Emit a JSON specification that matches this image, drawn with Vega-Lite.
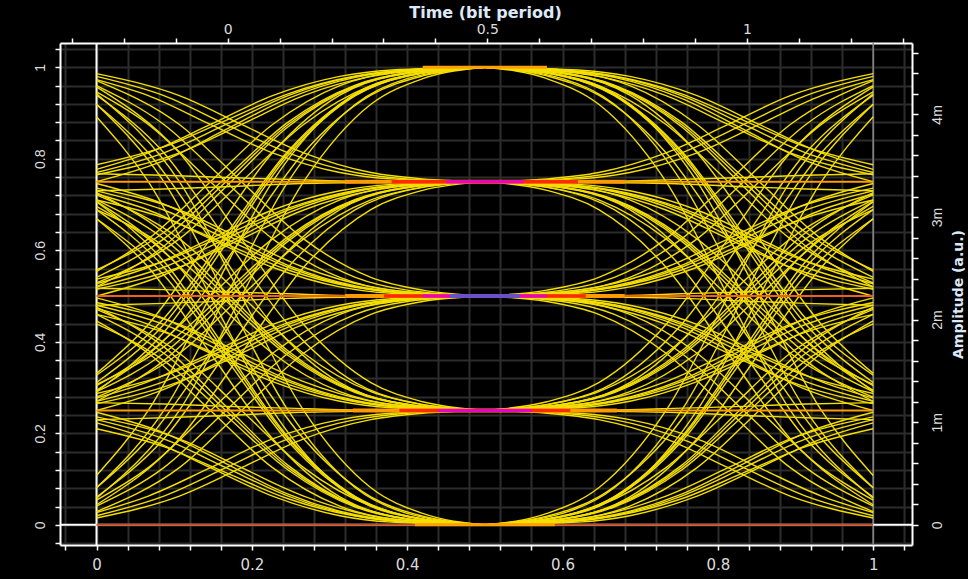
{
"$schema":"https://vega.github.io/schema/vega-lite/v6.json",
"autosize":{"type":"none"},
"width":852,"height":502,
"padding":{"left":60,"top":43,"right":56,"bottom":34},
"background":"#000000",
"config":{"view":{"stroke":null},"axis":{"domainColor":"#ffffff","domainWidth":2,"tickColor":"#ffffff","tickWidth":1.5,"labelColor":"#dcdcdc","labelFont":"DejaVu Sans","labelFontSize":14,"titleColor":"#dde8f8","titleFont":"DejaVu Sans","labelOverlap":false,"labelFlush":false,"labelBound":false}},
"datasets":{
"tr":[
{"i":1,"x":0,"r":1,"y":0.02},{"i":1,"x":0.0867,"r":0.9133,"y":0.063},{"i":1,"x":0.1667,"r":0.8333,"y":0.125},{"i":1,"x":0.2467,"r":0.7533,"y":0.188},{"i":1,"x":0.3333,"r":0.6667,"y":0.23},{"i":1,"x":0.4,"r":0.6,"y":0.244},{"i":1,"x":0.5,"r":0.5,"y":0.25},
{"i":2,"x":0,"r":1,"y":0.041},{"i":2,"x":0.0867,"r":0.9133,"y":0.125},{"i":2,"x":0.1667,"r":0.8333,"y":0.25},{"i":2,"x":0.2467,"r":0.7533,"y":0.375},{"i":2,"x":0.3333,"r":0.6667,"y":0.46},{"i":2,"x":0.4,"r":0.6,"y":0.488},{"i":2,"x":0.5,"r":0.5,"y":0.5},
{"i":3,"x":0,"r":1,"y":0.061},{"i":3,"x":0.0867,"r":0.9133,"y":0.188},{"i":3,"x":0.1667,"r":0.8333,"y":0.375},{"i":3,"x":0.2467,"r":0.7533,"y":0.563},{"i":3,"x":0.3333,"r":0.6667,"y":0.689},{"i":3,"x":0.4,"r":0.6,"y":0.731},{"i":3,"x":0.5,"r":0.5,"y":0.75},
{"i":4,"x":0,"r":1,"y":0.081},{"i":4,"x":0.0867,"r":0.9133,"y":0.25},{"i":4,"x":0.1667,"r":0.8333,"y":0.5},{"i":4,"x":0.2467,"r":0.7533,"y":0.75},{"i":4,"x":0.3333,"r":0.6667,"y":0.919},{"i":4,"x":0.4,"r":0.6,"y":0.975},{"i":4,"x":0.5,"r":0.5,"y":1},
{"i":5,"x":0,"r":1,"y":0.919},{"i":5,"x":0.0867,"r":0.9133,"y":0.75},{"i":5,"x":0.1667,"r":0.8333,"y":0.5},{"i":5,"x":0.2467,"r":0.7533,"y":0.25},{"i":5,"x":0.3333,"r":0.6667,"y":0.081},{"i":5,"x":0.4,"r":0.6,"y":0.025},{"i":5,"x":0.5,"r":0.5,"y":0},
{"i":6,"x":0,"r":1,"y":0.939},{"i":6,"x":0.0867,"r":0.9133,"y":0.813},{"i":6,"x":0.1667,"r":0.8333,"y":0.625},{"i":6,"x":0.2467,"r":0.7533,"y":0.438},{"i":6,"x":0.3333,"r":0.6667,"y":0.311},{"i":6,"x":0.4,"r":0.6,"y":0.269},{"i":6,"x":0.5,"r":0.5,"y":0.25},
{"i":7,"x":0,"r":1,"y":0.96},{"i":7,"x":0.0867,"r":0.9133,"y":0.875},{"i":7,"x":0.1667,"r":0.8333,"y":0.75},{"i":7,"x":0.2467,"r":0.7533,"y":0.625},{"i":7,"x":0.3333,"r":0.6667,"y":0.541},{"i":7,"x":0.4,"r":0.6,"y":0.513},{"i":7,"x":0.5,"r":0.5,"y":0.5},
{"i":8,"x":0,"r":1,"y":0.98},{"i":8,"x":0.0867,"r":0.9133,"y":0.938},{"i":8,"x":0.1667,"r":0.8333,"y":0.875},{"i":8,"x":0.2467,"r":0.7533,"y":0.813},{"i":8,"x":0.3333,"r":0.6667,"y":0.77},{"i":8,"x":0.4,"r":0.6,"y":0.756},{"i":8,"x":0.5,"r":0.5,"y":0.75},
{"i":9,"x":0,"r":1,"y":0.21},{"i":9,"x":0.0867,"r":0.9133,"y":0.171},{"i":9,"x":0.1667,"r":0.8333,"y":0.114},{"i":9,"x":0.2467,"r":0.7533,"y":0.057},{"i":9,"x":0.3333,"r":0.6667,"y":0.019},{"i":9,"x":0.4,"r":0.6,"y":0.006},{"i":9,"x":0.5,"r":0.5,"y":0},
{"i":10,"x":0,"r":1,"y":0.23},{"i":10,"x":0.0867,"r":0.9133,"y":0.234},{"i":10,"x":0.1667,"r":0.8333,"y":0.239},{"i":10,"x":0.2467,"r":0.7533,"y":0.245},{"i":10,"x":0.3333,"r":0.6667,"y":0.248},{"i":10,"x":0.4,"r":0.6,"y":0.249},{"i":10,"x":0.5,"r":0.5,"y":0.25},
{"i":11,"x":0,"r":1,"y":0.25},{"i":11,"x":0.0867,"r":0.9133,"y":0.296},{"i":11,"x":0.1667,"r":0.8333,"y":0.364},{"i":11,"x":0.2467,"r":0.7533,"y":0.432},{"i":11,"x":0.3333,"r":0.6667,"y":0.478},{"i":11,"x":0.4,"r":0.6,"y":0.493},{"i":11,"x":0.5,"r":0.5,"y":0.5},
{"i":12,"x":0,"r":1,"y":0.27},{"i":12,"x":0.0867,"r":0.9133,"y":0.359},{"i":12,"x":0.1667,"r":0.8333,"y":0.489},{"i":12,"x":0.2467,"r":0.7533,"y":0.62},{"i":12,"x":0.3333,"r":0.6667,"y":0.708},{"i":12,"x":0.4,"r":0.6,"y":0.737},{"i":12,"x":0.5,"r":0.5,"y":0.75},
{"i":13,"x":0,"r":1,"y":0.291},{"i":13,"x":0.0867,"r":0.9133,"y":0.421},{"i":13,"x":0.1667,"r":0.8333,"y":0.614},{"i":13,"x":0.2467,"r":0.7533,"y":0.807},{"i":13,"x":0.3333,"r":0.6667,"y":0.938},{"i":13,"x":0.4,"r":0.6,"y":0.981},{"i":13,"x":0.5,"r":0.5,"y":1},
{"i":14,"x":0,"r":1,"y":0.23},{"i":14,"x":0.0867,"r":0.9133,"y":0.188},{"i":14,"x":0.1667,"r":0.8333,"y":0.125},{"i":14,"x":0.2467,"r":0.7533,"y":0.063},{"i":14,"x":0.3333,"r":0.6667,"y":0.02},{"i":14,"x":0.4,"r":0.6,"y":0.006},{"i":14,"x":0.5,"r":0.5,"y":0},
{"i":15,"x":0,"r":1,"y":0.27},{"i":15,"x":0.0867,"r":0.9133,"y":0.313},{"i":15,"x":0.1667,"r":0.8333,"y":0.375},{"i":15,"x":0.2467,"r":0.7533,"y":0.438},{"i":15,"x":0.3333,"r":0.6667,"y":0.48},{"i":15,"x":0.4,"r":0.6,"y":0.494},{"i":15,"x":0.5,"r":0.5,"y":0.5},
{"i":16,"x":0,"r":1,"y":0.291},{"i":16,"x":0.0867,"r":0.9133,"y":0.375},{"i":16,"x":0.1667,"r":0.8333,"y":0.5},{"i":16,"x":0.2467,"r":0.7533,"y":0.625},{"i":16,"x":0.3333,"r":0.6667,"y":0.71},{"i":16,"x":0.4,"r":0.6,"y":0.738},{"i":16,"x":0.5,"r":0.5,"y":0.75},
{"i":17,"x":0,"r":1,"y":0.311},{"i":17,"x":0.0867,"r":0.9133,"y":0.438},{"i":17,"x":0.1667,"r":0.8333,"y":0.625},{"i":17,"x":0.2467,"r":0.7533,"y":0.813},{"i":17,"x":0.3333,"r":0.6667,"y":0.939},{"i":17,"x":0.4,"r":0.6,"y":0.981},{"i":17,"x":0.5,"r":0.5,"y":1},
{"i":18,"x":0,"r":1,"y":0.246},{"i":18,"x":0.0867,"r":0.9133,"y":0.201},{"i":18,"x":0.1667,"r":0.8333,"y":0.134},{"i":18,"x":0.2467,"r":0.7533,"y":0.067},{"i":18,"x":0.3333,"r":0.6667,"y":0.022},{"i":18,"x":0.4,"r":0.6,"y":0.007},{"i":18,"x":0.5,"r":0.5,"y":0},
{"i":19,"x":0,"r":1,"y":0.267},{"i":19,"x":0.0867,"r":0.9133,"y":0.264},{"i":19,"x":0.1667,"r":0.8333,"y":0.259},{"i":19,"x":0.2467,"r":0.7533,"y":0.255},{"i":19,"x":0.3333,"r":0.6667,"y":0.251},{"i":19,"x":0.4,"r":0.6,"y":0.25},{"i":19,"x":0.5,"r":0.5,"y":0.25},
{"i":20,"x":0,"r":1,"y":0.287},{"i":20,"x":0.0867,"r":0.9133,"y":0.326},{"i":20,"x":0.1667,"r":0.8333,"y":0.384},{"i":20,"x":0.2467,"r":0.7533,"y":0.442},{"i":20,"x":0.3333,"r":0.6667,"y":0.481},{"i":20,"x":0.4,"r":0.6,"y":0.494},{"i":20,"x":0.5,"r":0.5,"y":0.5},
{"i":21,"x":0,"r":1,"y":0.307},{"i":21,"x":0.0867,"r":0.9133,"y":0.389},{"i":21,"x":0.1667,"r":0.8333,"y":0.509},{"i":21,"x":0.2467,"r":0.7533,"y":0.63},{"i":21,"x":0.3333,"r":0.6667,"y":0.711},{"i":21,"x":0.4,"r":0.6,"y":0.738},{"i":21,"x":0.5,"r":0.5,"y":0.75},
{"i":22,"x":0,"r":1,"y":0.327},{"i":22,"x":0.0867,"r":0.9133,"y":0.451},{"i":22,"x":0.1667,"r":0.8333,"y":0.634},{"i":22,"x":0.2467,"r":0.7533,"y":0.817},{"i":22,"x":0.3333,"r":0.6667,"y":0.941},{"i":22,"x":0.4,"r":0.6,"y":0.982},{"i":22,"x":0.5,"r":0.5,"y":1},
{"i":23,"x":0,"r":1,"y":0.439},{"i":23,"x":0.0867,"r":0.9133,"y":0.359},{"i":23,"x":0.1667,"r":0.8333,"y":0.239},{"i":23,"x":0.2467,"r":0.7533,"y":0.12},{"i":23,"x":0.3333,"r":0.6667,"y":0.039},{"i":23,"x":0.4,"r":0.6,"y":0.012},{"i":23,"x":0.5,"r":0.5,"y":0},
{"i":24,"x":0,"r":1,"y":0.46},{"i":24,"x":0.0867,"r":0.9133,"y":0.421},{"i":24,"x":0.1667,"r":0.8333,"y":0.364},{"i":24,"x":0.2467,"r":0.7533,"y":0.307},{"i":24,"x":0.3333,"r":0.6667,"y":0.269},{"i":24,"x":0.4,"r":0.6,"y":0.256},{"i":24,"x":0.5,"r":0.5,"y":0.25},
{"i":25,"x":0,"r":1,"y":0.48},{"i":25,"x":0.0867,"r":0.9133,"y":0.484},{"i":25,"x":0.1667,"r":0.8333,"y":0.489},{"i":25,"x":0.2467,"r":0.7533,"y":0.495},{"i":25,"x":0.3333,"r":0.6667,"y":0.498},{"i":25,"x":0.4,"r":0.6,"y":0.499},{"i":25,"x":0.5,"r":0.5,"y":0.5},
{"i":26,"x":0,"r":1,"y":0.5},{"i":26,"x":0.0867,"r":0.9133,"y":0.546},{"i":26,"x":0.1667,"r":0.8333,"y":0.614},{"i":26,"x":0.2467,"r":0.7533,"y":0.682},{"i":26,"x":0.3333,"r":0.6667,"y":0.728},{"i":26,"x":0.4,"r":0.6,"y":0.743},{"i":26,"x":0.5,"r":0.5,"y":0.75},
{"i":27,"x":0,"r":1,"y":0.52},{"i":27,"x":0.0867,"r":0.9133,"y":0.609},{"i":27,"x":0.1667,"r":0.8333,"y":0.739},{"i":27,"x":0.2467,"r":0.7533,"y":0.87},{"i":27,"x":0.3333,"r":0.6667,"y":0.958},{"i":27,"x":0.4,"r":0.6,"y":0.987},{"i":27,"x":0.5,"r":0.5,"y":1},
{"i":28,"x":0,"r":1,"y":0.46},{"i":28,"x":0.0867,"r":0.9133,"y":0.375},{"i":28,"x":0.1667,"r":0.8333,"y":0.25},{"i":28,"x":0.2467,"r":0.7533,"y":0.125},{"i":28,"x":0.3333,"r":0.6667,"y":0.041},{"i":28,"x":0.4,"r":0.6,"y":0.013},{"i":28,"x":0.5,"r":0.5,"y":0},
{"i":29,"x":0,"r":1,"y":0.48},{"i":29,"x":0.0867,"r":0.9133,"y":0.438},{"i":29,"x":0.1667,"r":0.8333,"y":0.375},{"i":29,"x":0.2467,"r":0.7533,"y":0.313},{"i":29,"x":0.3333,"r":0.6667,"y":0.27},{"i":29,"x":0.4,"r":0.6,"y":0.256},{"i":29,"x":0.5,"r":0.5,"y":0.25},
{"i":30,"x":0,"r":1,"y":0.52},{"i":30,"x":0.0867,"r":0.9133,"y":0.563},{"i":30,"x":0.1667,"r":0.8333,"y":0.625},{"i":30,"x":0.2467,"r":0.7533,"y":0.688},{"i":30,"x":0.3333,"r":0.6667,"y":0.73},{"i":30,"x":0.4,"r":0.6,"y":0.744},{"i":30,"x":0.5,"r":0.5,"y":0.75},
{"i":31,"x":0,"r":1,"y":0.541},{"i":31,"x":0.0867,"r":0.9133,"y":0.625},{"i":31,"x":0.1667,"r":0.8333,"y":0.75},{"i":31,"x":0.2467,"r":0.7533,"y":0.875},{"i":31,"x":0.3333,"r":0.6667,"y":0.96},{"i":31,"x":0.4,"r":0.6,"y":0.988},{"i":31,"x":0.5,"r":0.5,"y":1},
{"i":32,"x":0,"r":1,"y":0.476},{"i":32,"x":0.0867,"r":0.9133,"y":0.389},{"i":32,"x":0.1667,"r":0.8333,"y":0.259},{"i":32,"x":0.2467,"r":0.7533,"y":0.13},{"i":32,"x":0.3333,"r":0.6667,"y":0.042},{"i":32,"x":0.4,"r":0.6,"y":0.013},{"i":32,"x":0.5,"r":0.5,"y":0},
{"i":33,"x":0,"r":1,"y":0.496},{"i":33,"x":0.0867,"r":0.9133,"y":0.451},{"i":33,"x":0.1667,"r":0.8333,"y":0.384},{"i":33,"x":0.2467,"r":0.7533,"y":0.317},{"i":33,"x":0.3333,"r":0.6667,"y":0.272},{"i":33,"x":0.4,"r":0.6,"y":0.257},{"i":33,"x":0.5,"r":0.5,"y":0.25},
{"i":34,"x":0,"r":1,"y":0.517},{"i":34,"x":0.0867,"r":0.9133,"y":0.514},{"i":34,"x":0.1667,"r":0.8333,"y":0.509},{"i":34,"x":0.2467,"r":0.7533,"y":0.505},{"i":34,"x":0.3333,"r":0.6667,"y":0.501},{"i":34,"x":0.4,"r":0.6,"y":0.5},{"i":34,"x":0.5,"r":0.5,"y":0.5},
{"i":35,"x":0,"r":1,"y":0.537},{"i":35,"x":0.0867,"r":0.9133,"y":0.576},{"i":35,"x":0.1667,"r":0.8333,"y":0.634},{"i":35,"x":0.2467,"r":0.7533,"y":0.692},{"i":35,"x":0.3333,"r":0.6667,"y":0.731},{"i":35,"x":0.4,"r":0.6,"y":0.744},{"i":35,"x":0.5,"r":0.5,"y":0.75},
{"i":36,"x":0,"r":1,"y":0.557},{"i":36,"x":0.0867,"r":0.9133,"y":0.639},{"i":36,"x":0.1667,"r":0.8333,"y":0.759},{"i":36,"x":0.2467,"r":0.7533,"y":0.88},{"i":36,"x":0.3333,"r":0.6667,"y":0.961},{"i":36,"x":0.4,"r":0.6,"y":0.988},{"i":36,"x":0.5,"r":0.5,"y":1},
{"i":37,"x":0,"r":1,"y":0.669},{"i":37,"x":0.0867,"r":0.9133,"y":0.546},{"i":37,"x":0.1667,"r":0.8333,"y":0.364},{"i":37,"x":0.2467,"r":0.7533,"y":0.182},{"i":37,"x":0.3333,"r":0.6667,"y":0.059},{"i":37,"x":0.4,"r":0.6,"y":0.018},{"i":37,"x":0.5,"r":0.5,"y":0},
{"i":38,"x":0,"r":1,"y":0.689},{"i":38,"x":0.0867,"r":0.9133,"y":0.609},{"i":38,"x":0.1667,"r":0.8333,"y":0.489},{"i":38,"x":0.2467,"r":0.7533,"y":0.37},{"i":38,"x":0.3333,"r":0.6667,"y":0.289},{"i":38,"x":0.4,"r":0.6,"y":0.262},{"i":38,"x":0.5,"r":0.5,"y":0.25},
{"i":39,"x":0,"r":1,"y":0.71},{"i":39,"x":0.0867,"r":0.9133,"y":0.671},{"i":39,"x":0.1667,"r":0.8333,"y":0.614},{"i":39,"x":0.2467,"r":0.7533,"y":0.557},{"i":39,"x":0.3333,"r":0.6667,"y":0.519},{"i":39,"x":0.4,"r":0.6,"y":0.506},{"i":39,"x":0.5,"r":0.5,"y":0.5},
{"i":40,"x":0,"r":1,"y":0.73},{"i":40,"x":0.0867,"r":0.9133,"y":0.734},{"i":40,"x":0.1667,"r":0.8333,"y":0.739},{"i":40,"x":0.2467,"r":0.7533,"y":0.745},{"i":40,"x":0.3333,"r":0.6667,"y":0.748},{"i":40,"x":0.4,"r":0.6,"y":0.749},{"i":40,"x":0.5,"r":0.5,"y":0.75},
{"i":41,"x":0,"r":1,"y":0.75},{"i":41,"x":0.0867,"r":0.9133,"y":0.796},{"i":41,"x":0.1667,"r":0.8333,"y":0.864},{"i":41,"x":0.2467,"r":0.7533,"y":0.932},{"i":41,"x":0.3333,"r":0.6667,"y":0.978},{"i":41,"x":0.4,"r":0.6,"y":0.993},{"i":41,"x":0.5,"r":0.5,"y":1},
{"i":42,"x":0,"r":1,"y":0.689},{"i":42,"x":0.0867,"r":0.9133,"y":0.563},{"i":42,"x":0.1667,"r":0.8333,"y":0.375},{"i":42,"x":0.2467,"r":0.7533,"y":0.188},{"i":42,"x":0.3333,"r":0.6667,"y":0.061},{"i":42,"x":0.4,"r":0.6,"y":0.019},{"i":42,"x":0.5,"r":0.5,"y":0},
{"i":43,"x":0,"r":1,"y":0.71},{"i":43,"x":0.0867,"r":0.9133,"y":0.625},{"i":43,"x":0.1667,"r":0.8333,"y":0.5},{"i":43,"x":0.2467,"r":0.7533,"y":0.375},{"i":43,"x":0.3333,"r":0.6667,"y":0.291},{"i":43,"x":0.4,"r":0.6,"y":0.263},{"i":43,"x":0.5,"r":0.5,"y":0.25},
{"i":44,"x":0,"r":1,"y":0.73},{"i":44,"x":0.0867,"r":0.9133,"y":0.688},{"i":44,"x":0.1667,"r":0.8333,"y":0.625},{"i":44,"x":0.2467,"r":0.7533,"y":0.563},{"i":44,"x":0.3333,"r":0.6667,"y":0.52},{"i":44,"x":0.4,"r":0.6,"y":0.506},{"i":44,"x":0.5,"r":0.5,"y":0.5},
{"i":45,"x":0,"r":1,"y":0.77},{"i":45,"x":0.0867,"r":0.9133,"y":0.813},{"i":45,"x":0.1667,"r":0.8333,"y":0.875},{"i":45,"x":0.2467,"r":0.7533,"y":0.938},{"i":45,"x":0.3333,"r":0.6667,"y":0.98},{"i":45,"x":0.4,"r":0.6,"y":0.994},{"i":45,"x":0.5,"r":0.5,"y":1},
{"i":46,"x":0,"r":1,"y":0.706},{"i":46,"x":0.0867,"r":0.9133,"y":0.576},{"i":46,"x":0.1667,"r":0.8333,"y":0.384},{"i":46,"x":0.2467,"r":0.7533,"y":0.192},{"i":46,"x":0.3333,"r":0.6667,"y":0.062},{"i":46,"x":0.4,"r":0.6,"y":0.019},{"i":46,"x":0.5,"r":0.5,"y":0},
{"i":47,"x":0,"r":1,"y":0.726},{"i":47,"x":0.0867,"r":0.9133,"y":0.639},{"i":47,"x":0.1667,"r":0.8333,"y":0.509},{"i":47,"x":0.2467,"r":0.7533,"y":0.38},{"i":47,"x":0.3333,"r":0.6667,"y":0.292},{"i":47,"x":0.4,"r":0.6,"y":0.263},{"i":47,"x":0.5,"r":0.5,"y":0.25},
{"i":48,"x":0,"r":1,"y":0.746},{"i":48,"x":0.0867,"r":0.9133,"y":0.701},{"i":48,"x":0.1667,"r":0.8333,"y":0.634},{"i":48,"x":0.2467,"r":0.7533,"y":0.567},{"i":48,"x":0.3333,"r":0.6667,"y":0.522},{"i":48,"x":0.4,"r":0.6,"y":0.507},{"i":48,"x":0.5,"r":0.5,"y":0.5},
{"i":49,"x":0,"r":1,"y":0.767},{"i":49,"x":0.0867,"r":0.9133,"y":0.764},{"i":49,"x":0.1667,"r":0.8333,"y":0.759},{"i":49,"x":0.2467,"r":0.7533,"y":0.755},{"i":49,"x":0.3333,"r":0.6667,"y":0.751},{"i":49,"x":0.4,"r":0.6,"y":0.75},{"i":49,"x":0.5,"r":0.5,"y":0.75},
{"i":50,"x":0,"r":1,"y":0.787},{"i":50,"x":0.0867,"r":0.9133,"y":0.826},{"i":50,"x":0.1667,"r":0.8333,"y":0.884},{"i":50,"x":0.2467,"r":0.7533,"y":0.942},{"i":50,"x":0.3333,"r":0.6667,"y":0.981},{"i":50,"x":0.4,"r":0.6,"y":0.994},{"i":50,"x":0.5,"r":0.5,"y":1},
{"i":51,"x":0,"r":1,"y":0.015},{"i":51,"x":0.1067,"r":0.8933,"y":0.063},{"i":51,"x":0.1867,"r":0.8133,"y":0.125},{"i":51,"x":0.2667,"r":0.7333,"y":0.188},{"i":51,"x":0.3533,"r":0.6467,"y":0.23},{"i":51,"x":0.42,"r":0.58,"y":0.244},{"i":51,"x":0.5,"r":0.5,"y":0.25},
{"i":52,"x":0,"r":1,"y":0.029},{"i":52,"x":0.1067,"r":0.8933,"y":0.125},{"i":52,"x":0.1867,"r":0.8133,"y":0.25},{"i":52,"x":0.2667,"r":0.7333,"y":0.375},{"i":52,"x":0.3533,"r":0.6467,"y":0.46},{"i":52,"x":0.42,"r":0.58,"y":0.488},{"i":52,"x":0.5,"r":0.5,"y":0.5},
{"i":53,"x":0,"r":1,"y":0.044},{"i":53,"x":0.1067,"r":0.8933,"y":0.188},{"i":53,"x":0.1867,"r":0.8133,"y":0.375},{"i":53,"x":0.2667,"r":0.7333,"y":0.563},{"i":53,"x":0.3533,"r":0.6467,"y":0.689},{"i":53,"x":0.42,"r":0.58,"y":0.731},{"i":53,"x":0.5,"r":0.5,"y":0.75},
{"i":54,"x":0,"r":1,"y":0.058},{"i":54,"x":0.1067,"r":0.8933,"y":0.25},{"i":54,"x":0.1867,"r":0.8133,"y":0.5},{"i":54,"x":0.2667,"r":0.7333,"y":0.75},{"i":54,"x":0.3533,"r":0.6467,"y":0.919},{"i":54,"x":0.42,"r":0.58,"y":0.975},{"i":54,"x":0.5,"r":0.5,"y":1},
{"i":55,"x":0,"r":1,"y":0.942},{"i":55,"x":0.1067,"r":0.8933,"y":0.75},{"i":55,"x":0.1867,"r":0.8133,"y":0.5},{"i":55,"x":0.2667,"r":0.7333,"y":0.25},{"i":55,"x":0.3533,"r":0.6467,"y":0.081},{"i":55,"x":0.42,"r":0.58,"y":0.025},{"i":55,"x":0.5,"r":0.5,"y":0},
{"i":56,"x":0,"r":1,"y":0.957},{"i":56,"x":0.1067,"r":0.8933,"y":0.813},{"i":56,"x":0.1867,"r":0.8133,"y":0.625},{"i":56,"x":0.2667,"r":0.7333,"y":0.438},{"i":56,"x":0.3533,"r":0.6467,"y":0.311},{"i":56,"x":0.42,"r":0.58,"y":0.269},{"i":56,"x":0.5,"r":0.5,"y":0.25},
{"i":57,"x":0,"r":1,"y":0.971},{"i":57,"x":0.1067,"r":0.8933,"y":0.875},{"i":57,"x":0.1867,"r":0.8133,"y":0.75},{"i":57,"x":0.2667,"r":0.7333,"y":0.625},{"i":57,"x":0.3533,"r":0.6467,"y":0.541},{"i":57,"x":0.42,"r":0.58,"y":0.513},{"i":57,"x":0.5,"r":0.5,"y":0.5},
{"i":58,"x":0,"r":1,"y":0.986},{"i":58,"x":0.1067,"r":0.8933,"y":0.938},{"i":58,"x":0.1867,"r":0.8133,"y":0.875},{"i":58,"x":0.2667,"r":0.7333,"y":0.813},{"i":58,"x":0.3533,"r":0.6467,"y":0.77},{"i":58,"x":0.42,"r":0.58,"y":0.756},{"i":58,"x":0.5,"r":0.5,"y":0.75},
{"i":59,"x":0,"r":1,"y":0.236},{"i":59,"x":0.1067,"r":0.8933,"y":0.188},{"i":59,"x":0.1867,"r":0.8133,"y":0.125},{"i":59,"x":0.2667,"r":0.7333,"y":0.063},{"i":59,"x":0.3533,"r":0.6467,"y":0.02},{"i":59,"x":0.42,"r":0.58,"y":0.006},{"i":59,"x":0.5,"r":0.5,"y":0},
{"i":60,"x":0,"r":1,"y":0.265},{"i":60,"x":0.1067,"r":0.8933,"y":0.313},{"i":60,"x":0.1867,"r":0.8133,"y":0.375},{"i":60,"x":0.2667,"r":0.7333,"y":0.438},{"i":60,"x":0.3533,"r":0.6467,"y":0.48},{"i":60,"x":0.42,"r":0.58,"y":0.494},{"i":60,"x":0.5,"r":0.5,"y":0.5},
{"i":61,"x":0,"r":1,"y":0.279},{"i":61,"x":0.1067,"r":0.8933,"y":0.375},{"i":61,"x":0.1867,"r":0.8133,"y":0.5},{"i":61,"x":0.2667,"r":0.7333,"y":0.625},{"i":61,"x":0.3533,"r":0.6467,"y":0.71},{"i":61,"x":0.42,"r":0.58,"y":0.738},{"i":61,"x":0.5,"r":0.5,"y":0.75},
{"i":62,"x":0,"r":1,"y":0.294},{"i":62,"x":0.1067,"r":0.8933,"y":0.438},{"i":62,"x":0.1867,"r":0.8133,"y":0.625},{"i":62,"x":0.2667,"r":0.7333,"y":0.813},{"i":62,"x":0.3533,"r":0.6467,"y":0.939},{"i":62,"x":0.42,"r":0.58,"y":0.981},{"i":62,"x":0.5,"r":0.5,"y":1},
{"i":63,"x":0,"r":1,"y":0.471},{"i":63,"x":0.1067,"r":0.8933,"y":0.375},{"i":63,"x":0.1867,"r":0.8133,"y":0.25},{"i":63,"x":0.2667,"r":0.7333,"y":0.125},{"i":63,"x":0.3533,"r":0.6467,"y":0.041},{"i":63,"x":0.42,"r":0.58,"y":0.013},{"i":63,"x":0.5,"r":0.5,"y":0},
{"i":64,"x":0,"r":1,"y":0.486},{"i":64,"x":0.1067,"r":0.8933,"y":0.438},{"i":64,"x":0.1867,"r":0.8133,"y":0.375},{"i":64,"x":0.2667,"r":0.7333,"y":0.313},{"i":64,"x":0.3533,"r":0.6467,"y":0.27},{"i":64,"x":0.42,"r":0.58,"y":0.256},{"i":64,"x":0.5,"r":0.5,"y":0.25},
{"i":65,"x":0,"r":1,"y":0.515},{"i":65,"x":0.1067,"r":0.8933,"y":0.563},{"i":65,"x":0.1867,"r":0.8133,"y":0.625},{"i":65,"x":0.2667,"r":0.7333,"y":0.688},{"i":65,"x":0.3533,"r":0.6467,"y":0.73},{"i":65,"x":0.42,"r":0.58,"y":0.744},{"i":65,"x":0.5,"r":0.5,"y":0.75},
{"i":66,"x":0,"r":1,"y":0.529},{"i":66,"x":0.1067,"r":0.8933,"y":0.625},{"i":66,"x":0.1867,"r":0.8133,"y":0.75},{"i":66,"x":0.2667,"r":0.7333,"y":0.875},{"i":66,"x":0.3533,"r":0.6467,"y":0.96},{"i":66,"x":0.42,"r":0.58,"y":0.988},{"i":66,"x":0.5,"r":0.5,"y":1},
{"i":67,"x":0,"r":1,"y":0.707},{"i":67,"x":0.1067,"r":0.8933,"y":0.563},{"i":67,"x":0.1867,"r":0.8133,"y":0.375},{"i":67,"x":0.2667,"r":0.7333,"y":0.188},{"i":67,"x":0.3533,"r":0.6467,"y":0.061},{"i":67,"x":0.42,"r":0.58,"y":0.019},{"i":67,"x":0.5,"r":0.5,"y":0},
{"i":68,"x":0,"r":1,"y":0.721},{"i":68,"x":0.1067,"r":0.8933,"y":0.625},{"i":68,"x":0.1867,"r":0.8133,"y":0.5},{"i":68,"x":0.2667,"r":0.7333,"y":0.375},{"i":68,"x":0.3533,"r":0.6467,"y":0.291},{"i":68,"x":0.42,"r":0.58,"y":0.263},{"i":68,"x":0.5,"r":0.5,"y":0.25},
{"i":69,"x":0,"r":1,"y":0.736},{"i":69,"x":0.1067,"r":0.8933,"y":0.688},{"i":69,"x":0.1867,"r":0.8133,"y":0.625},{"i":69,"x":0.2667,"r":0.7333,"y":0.563},{"i":69,"x":0.3533,"r":0.6467,"y":0.52},{"i":69,"x":0.42,"r":0.58,"y":0.506},{"i":69,"x":0.5,"r":0.5,"y":0.5},
{"i":70,"x":0,"r":1,"y":0.765},{"i":70,"x":0.1067,"r":0.8933,"y":0.813},{"i":70,"x":0.1867,"r":0.8133,"y":0.875},{"i":70,"x":0.2667,"r":0.7333,"y":0.938},{"i":70,"x":0.3533,"r":0.6467,"y":0.98},{"i":70,"x":0.42,"r":0.58,"y":0.994},{"i":70,"x":0.5,"r":0.5,"y":1},
{"i":71,"x":0,"r":1,"y":0.027},{"i":71,"x":0.0667,"r":0.9333,"y":0.063},{"i":71,"x":0.1467,"r":0.8533,"y":0.125},{"i":71,"x":0.2267,"r":0.7733,"y":0.188},{"i":71,"x":0.3133,"r":0.6867,"y":0.23},{"i":71,"x":0.38,"r":0.62,"y":0.244},{"i":71,"x":0.5,"r":0.5,"y":0.25},
{"i":72,"x":0,"r":1,"y":0.054},{"i":72,"x":0.0667,"r":0.9333,"y":0.125},{"i":72,"x":0.1467,"r":0.8533,"y":0.25},{"i":72,"x":0.2267,"r":0.7733,"y":0.375},{"i":72,"x":0.3133,"r":0.6867,"y":0.46},{"i":72,"x":0.38,"r":0.62,"y":0.488},{"i":72,"x":0.5,"r":0.5,"y":0.5},
{"i":73,"x":0,"r":1,"y":0.081},{"i":73,"x":0.0667,"r":0.9333,"y":0.188},{"i":73,"x":0.1467,"r":0.8533,"y":0.375},{"i":73,"x":0.2267,"r":0.7733,"y":0.563},{"i":73,"x":0.3133,"r":0.6867,"y":0.689},{"i":73,"x":0.38,"r":0.62,"y":0.731},{"i":73,"x":0.5,"r":0.5,"y":0.75},
{"i":74,"x":0,"r":1,"y":0.108},{"i":74,"x":0.0667,"r":0.9333,"y":0.25},{"i":74,"x":0.1467,"r":0.8533,"y":0.5},{"i":74,"x":0.2267,"r":0.7733,"y":0.75},{"i":74,"x":0.3133,"r":0.6867,"y":0.919},{"i":74,"x":0.38,"r":0.62,"y":0.975},{"i":74,"x":0.5,"r":0.5,"y":1},
{"i":75,"x":0,"r":1,"y":0.892},{"i":75,"x":0.0667,"r":0.9333,"y":0.75},{"i":75,"x":0.1467,"r":0.8533,"y":0.5},{"i":75,"x":0.2267,"r":0.7733,"y":0.25},{"i":75,"x":0.3133,"r":0.6867,"y":0.081},{"i":75,"x":0.38,"r":0.62,"y":0.025},{"i":75,"x":0.5,"r":0.5,"y":0},
{"i":76,"x":0,"r":1,"y":0.919},{"i":76,"x":0.0667,"r":0.9333,"y":0.813},{"i":76,"x":0.1467,"r":0.8533,"y":0.625},{"i":76,"x":0.2267,"r":0.7733,"y":0.438},{"i":76,"x":0.3133,"r":0.6867,"y":0.311},{"i":76,"x":0.38,"r":0.62,"y":0.269},{"i":76,"x":0.5,"r":0.5,"y":0.25},
{"i":77,"x":0,"r":1,"y":0.946},{"i":77,"x":0.0667,"r":0.9333,"y":0.875},{"i":77,"x":0.1467,"r":0.8533,"y":0.75},{"i":77,"x":0.2267,"r":0.7733,"y":0.625},{"i":77,"x":0.3133,"r":0.6867,"y":0.541},{"i":77,"x":0.38,"r":0.62,"y":0.513},{"i":77,"x":0.5,"r":0.5,"y":0.5},
{"i":78,"x":0,"r":1,"y":0.973},{"i":78,"x":0.0667,"r":0.9333,"y":0.938},{"i":78,"x":0.1467,"r":0.8533,"y":0.875},{"i":78,"x":0.2267,"r":0.7733,"y":0.813},{"i":78,"x":0.3133,"r":0.6867,"y":0.77},{"i":78,"x":0.38,"r":0.62,"y":0.756},{"i":78,"x":0.5,"r":0.5,"y":0.75},
{"i":79,"x":0,"r":1,"y":0.223},{"i":79,"x":0.0667,"r":0.9333,"y":0.188},{"i":79,"x":0.1467,"r":0.8533,"y":0.125},{"i":79,"x":0.2267,"r":0.7733,"y":0.063},{"i":79,"x":0.3133,"r":0.6867,"y":0.02},{"i":79,"x":0.38,"r":0.62,"y":0.006},{"i":79,"x":0.5,"r":0.5,"y":0},
{"i":80,"x":0,"r":1,"y":0.277},{"i":80,"x":0.0667,"r":0.9333,"y":0.313},{"i":80,"x":0.1467,"r":0.8533,"y":0.375},{"i":80,"x":0.2267,"r":0.7733,"y":0.438},{"i":80,"x":0.3133,"r":0.6867,"y":0.48},{"i":80,"x":0.38,"r":0.62,"y":0.494},{"i":80,"x":0.5,"r":0.5,"y":0.5},
{"i":81,"x":0,"r":1,"y":0.304},{"i":81,"x":0.0667,"r":0.9333,"y":0.375},{"i":81,"x":0.1467,"r":0.8533,"y":0.5},{"i":81,"x":0.2267,"r":0.7733,"y":0.625},{"i":81,"x":0.3133,"r":0.6867,"y":0.71},{"i":81,"x":0.38,"r":0.62,"y":0.738},{"i":81,"x":0.5,"r":0.5,"y":0.75},
{"i":82,"x":0,"r":1,"y":0.331},{"i":82,"x":0.0667,"r":0.9333,"y":0.438},{"i":82,"x":0.1467,"r":0.8533,"y":0.625},{"i":82,"x":0.2267,"r":0.7733,"y":0.813},{"i":82,"x":0.3133,"r":0.6867,"y":0.939},{"i":82,"x":0.38,"r":0.62,"y":0.981},{"i":82,"x":0.5,"r":0.5,"y":1},
{"i":83,"x":0,"r":1,"y":0.446},{"i":83,"x":0.0667,"r":0.9333,"y":0.375},{"i":83,"x":0.1467,"r":0.8533,"y":0.25},{"i":83,"x":0.2267,"r":0.7733,"y":0.125},{"i":83,"x":0.3133,"r":0.6867,"y":0.041},{"i":83,"x":0.38,"r":0.62,"y":0.013},{"i":83,"x":0.5,"r":0.5,"y":0},
{"i":84,"x":0,"r":1,"y":0.473},{"i":84,"x":0.0667,"r":0.9333,"y":0.438},{"i":84,"x":0.1467,"r":0.8533,"y":0.375},{"i":84,"x":0.2267,"r":0.7733,"y":0.313},{"i":84,"x":0.3133,"r":0.6867,"y":0.27},{"i":84,"x":0.38,"r":0.62,"y":0.256},{"i":84,"x":0.5,"r":0.5,"y":0.25},
{"i":85,"x":0,"r":1,"y":0.527},{"i":85,"x":0.0667,"r":0.9333,"y":0.563},{"i":85,"x":0.1467,"r":0.8533,"y":0.625},{"i":85,"x":0.2267,"r":0.7733,"y":0.688},{"i":85,"x":0.3133,"r":0.6867,"y":0.73},{"i":85,"x":0.38,"r":0.62,"y":0.744},{"i":85,"x":0.5,"r":0.5,"y":0.75},
{"i":86,"x":0,"r":1,"y":0.554},{"i":86,"x":0.0667,"r":0.9333,"y":0.625},{"i":86,"x":0.1467,"r":0.8533,"y":0.75},{"i":86,"x":0.2267,"r":0.7733,"y":0.875},{"i":86,"x":0.3133,"r":0.6867,"y":0.96},{"i":86,"x":0.38,"r":0.62,"y":0.988},{"i":86,"x":0.5,"r":0.5,"y":1},
{"i":87,"x":0,"r":1,"y":0.669},{"i":87,"x":0.0667,"r":0.9333,"y":0.563},{"i":87,"x":0.1467,"r":0.8533,"y":0.375},{"i":87,"x":0.2267,"r":0.7733,"y":0.188},{"i":87,"x":0.3133,"r":0.6867,"y":0.061},{"i":87,"x":0.38,"r":0.62,"y":0.019},{"i":87,"x":0.5,"r":0.5,"y":0},
{"i":88,"x":0,"r":1,"y":0.696},{"i":88,"x":0.0667,"r":0.9333,"y":0.625},{"i":88,"x":0.1467,"r":0.8533,"y":0.5},{"i":88,"x":0.2267,"r":0.7733,"y":0.375},{"i":88,"x":0.3133,"r":0.6867,"y":0.291},{"i":88,"x":0.38,"r":0.62,"y":0.263},{"i":88,"x":0.5,"r":0.5,"y":0.25},
{"i":89,"x":0,"r":1,"y":0.723},{"i":89,"x":0.0667,"r":0.9333,"y":0.688},{"i":89,"x":0.1467,"r":0.8533,"y":0.625},{"i":89,"x":0.2267,"r":0.7733,"y":0.563},{"i":89,"x":0.3133,"r":0.6867,"y":0.52},{"i":89,"x":0.38,"r":0.62,"y":0.506},{"i":89,"x":0.5,"r":0.5,"y":0.5},
{"i":90,"x":0,"r":1,"y":0.777},{"i":90,"x":0.0667,"r":0.9333,"y":0.813},{"i":90,"x":0.1467,"r":0.8533,"y":0.875},{"i":90,"x":0.2267,"r":0.7733,"y":0.938},{"i":90,"x":0.3133,"r":0.6867,"y":0.98},{"i":90,"x":0.38,"r":0.62,"y":0.994},{"i":90,"x":0.5,"r":0.5,"y":1}
],
"fl":[
{"i":1,"k":"f","x":0,"y":0.25},{"i":1,"k":"f","x":1,"y":0.25},
{"i":2,"k":"h","x":0,"y":0.5},{"i":2,"k":"h","x":1,"y":0.5},
{"i":3,"k":"f","x":0,"y":0.75},{"i":3,"k":"f","x":1,"y":0.75},
{"i":4,"k":"z","x":0,"y":0},{"i":4,"k":"z","x":1,"y":0}
],
"hot":[
{"h":"t","y":1,"x":0.42,"x2":0.58},
{"h":"t","y":0,"x":0.41,"x2":0.59},
{"h":"o","y":0.75,"x":0.32,"x2":0.68},
{"h":"o","y":0.5,"x":0.32,"x2":0.68},
{"h":"o","y":0.25,"x":0.33,"x2":0.67},
{"h":"r","y":0.75,"x":0.38,"x2":0.62},
{"h":"r","y":0.5,"x":0.37,"x2":0.63},
{"h":"r","y":0.25,"x":0.39,"x2":0.61},
{"h":"m","y":0.75,"x":0.45,"x2":0.55},
{"h":"m","y":0.5,"x":0.42,"x2":0.58},
{"h":"m","y":0.25,"x":0.44,"x2":0.56},
{"h":"b","y":0.5,"x":0.455,"x2":0.545}
],
"ax":[{"t":0,"m":0}]
},
"layer":[
{"data":{"values":[{}]},"mark":{"type":"rule","color":"#ffffff","strokeWidth":2},
 "encoding":{"x":{"datum":0,"type":"quantitative","scale":{"domain":[-0.047,1.05],"nice":false,"zero":false},"axis":null}}},
{"data":{"values":[{}]},"mark":{"type":"rule","color":"#8c8c8c","strokeWidth":1.5},
 "encoding":{"x":{"datum":1,"type":"quantitative","scale":{"domain":[-0.047,1.05],"nice":false,"zero":false},"axis":null}}},
{"data":{"values":[{}]},"mark":{"type":"rule","color":"#ffffff","strokeWidth":2},
 "encoding":{"y":{"datum":0,"type":"quantitative","scale":{"domain":[-0.044,1.053],"nice":false,"zero":false},"axis":null}}},
{"data":{"name":"tr"},"mark":{"type":"line","color":"#f5df00","strokeWidth":1.4,"interpolate":"monotone"},
 "encoding":{
  "x":{"field":"x","type":"quantitative","scale":{"domain":[-0.047,1.05],"nice":false,"zero":false},
   "axis":{"orient":"bottom","title":null,"values":[-0.04,0,0.04,0.08,0.12,0.16,0.2,0.24,0.28,0.32,0.36,0.4,0.44,0.48,0.52,0.56,0.6,0.64,0.68,0.72,0.76,0.8,0.84,0.88,0.92,0.96,1,1.04],
    "format":".2~f","labelExpr":"indexof(['0','0.2','0.4','0.6','0.8','1'], datum.label) >= 0 ? datum.label : ''",
    "grid":true,"gridColor":"#2c2c2c","gridWidth":2,"tickSize":5,"labelPadding":7,"labelFontSize":15}},
  "y":{"field":"y","type":"quantitative","scale":{"domain":[-0.044,1.053],"nice":false,"zero":false},
   "axis":{"orient":"left","title":null,"values":[-0.04,0,0.04,0.08,0.12,0.16,0.2,0.24,0.28,0.32,0.36,0.4,0.44,0.48,0.52,0.56,0.6,0.64,0.68,0.72,0.76,0.8,0.84,0.88,0.92,0.96,1,1.04],
    "format":".2~f","labelExpr":"indexof(['0','0.2','0.4','0.6','0.8','1'], datum.label) >= 0 ? datum.label : ''",
    "grid":true,"gridColor":"#2c2c2c","gridWidth":2,"tickSize":5,"labelPadding":8,"labelAngle":-90,"labelAlign":"center","labelBaseline":"bottom","labelFont":"Liberation Sans","labelFontSize":14}},
  "detail":{"field":"i","type":"nominal"}}},
{"data":{"name":"tr"},"mark":{"type":"line","color":"#f5df00","strokeWidth":1.4,"interpolate":"monotone"},
 "encoding":{
  "x":{"field":"r","type":"quantitative","scale":{"domain":[-0.047,1.05],"nice":false,"zero":false},"axis":null},
  "y":{"field":"y","type":"quantitative","scale":{"domain":[-0.044,1.053],"nice":false,"zero":false},"axis":null},
  "detail":{"field":"i","type":"nominal"}}},
{"data":{"name":"fl"},"mark":{"type":"line","strokeWidth":2},
 "encoding":{
  "x":{"field":"x","type":"quantitative","scale":{"domain":[-0.047,1.05],"nice":false,"zero":false},"axis":null},
  "y":{"field":"y","type":"quantitative","scale":{"domain":[-0.044,1.053],"nice":false,"zero":false},"axis":null},
  "color":{"field":"k","type":"nominal","scale":{"domain":["f","h","z"],"range":["#ff9c00","#f0601a","#c8461e"]},"legend":null},
  "detail":{"field":"i","type":"nominal"}}},
{"data":{"name":"hot"},"transform":[{"filter":"datum.h=='t'"}],"mark":{"type":"rule","color":"#ffa000","strokeWidth":3},
 "encoding":{
  "x":{"field":"x","type":"quantitative","scale":{"domain":[-0.047,1.05],"nice":false,"zero":false},"axis":null},"x2":{"field":"x2"},
  "y":{"field":"y","type":"quantitative","scale":{"domain":[-0.044,1.053],"nice":false,"zero":false},"axis":null}}},
{"data":{"name":"hot"},"transform":[{"filter":"datum.h=='o'"}],"mark":{"type":"rule","color":"#ff9a00","strokeWidth":4},
 "encoding":{
  "x":{"field":"x","type":"quantitative","scale":{"domain":[-0.047,1.05],"nice":false,"zero":false},"axis":null},"x2":{"field":"x2"},
  "y":{"field":"y","type":"quantitative","scale":{"domain":[-0.044,1.053],"nice":false,"zero":false},"axis":null}}},
{"data":{"name":"hot"},"transform":[{"filter":"datum.h=='r'"}],"mark":{"type":"rule","color":"#ff2a00","strokeWidth":3.5},
 "encoding":{
  "x":{"field":"x","type":"quantitative","scale":{"domain":[-0.047,1.05],"nice":false,"zero":false},"axis":null},"x2":{"field":"x2"},
  "y":{"field":"y","type":"quantitative","scale":{"domain":[-0.044,1.053],"nice":false,"zero":false},"axis":null}}},
{"data":{"name":"hot"},"transform":[{"filter":"datum.h=='m'"}],"mark":{"type":"rule","color":"#e600d2","strokeWidth":3},
 "encoding":{
  "x":{"field":"x","type":"quantitative","scale":{"domain":[-0.047,1.05],"nice":false,"zero":false},"axis":null},"x2":{"field":"x2"},
  "y":{"field":"y","type":"quantitative","scale":{"domain":[-0.044,1.053],"nice":false,"zero":false},"axis":null}}},
{"data":{"name":"hot"},"transform":[{"filter":"datum.h=='b'"}],"mark":{"type":"rule","color":"#1e6cff","strokeWidth":2.5},
 "encoding":{
  "x":{"field":"x","type":"quantitative","scale":{"domain":[-0.047,1.05],"nice":false,"zero":false},"axis":null},"x2":{"field":"x2"},
  "y":{"field":"y","type":"quantitative","scale":{"domain":[-0.044,1.053],"nice":false,"zero":false},"axis":null}}},
{"data":{"name":"ax"},"mark":{"type":"point","opacity":0},
 "encoding":{
  "x":{"field":"t","type":"quantitative","scale":{"domain":[-0.323,1.318],"nice":false,"zero":false},
   "axis":{"orient":"top","values":[-0.3,-0.2,-0.1,0,0.1,0.2,0.3,0.4,0.5,0.6,0.7,0.8,0.9,1,1.1,1.2,1.3],"format":"~g",
    "labelExpr":"indexof(['0','0.5','1'], datum.label) >= 0 ? datum.label : ''","grid":false,"tickSize":5,"labelPadding":2,"labelFontSize":14,
    "title":"Time (bit period)","titleFontSize":16,"titleFontWeight":"bold","titleX":425,"titleY":-31,"titleBaseline":"middle","titleAlign":"center"}},
  "y":{"field":"m","type":"quantitative","scale":{"domain":[-0.196,4.696],"nice":false,"zero":false},
   "axis":{"orient":"right","values":[0,0.2,0.4,0.6,0.8,1,1.2,1.4,1.6,1.8,2,2.2,2.4,2.6,2.8,3,3.2,3.4,3.6,3.8,4,4.2,4.4,4.6],
    "labelExpr":"datum.value==0 ? '0' : (datum.value==1||datum.value==2||datum.value==3||datum.value==4) ? datum.value+'m' : ''",
    "grid":false,"tickSize":6,"labelPadding":12,"labelAngle":-90,"labelAlign":"center","labelBaseline":"top","labelFont":"Liberation Sans","labelFontSize":14,
    "title":"Amplitude (a.u.)","titleAngle":-90,"titleX":46,"titleY":251,"titleBaseline":"middle","titleAlign":"center","titleFontSize":14,"titleFontWeight":"bold"}}}}
],
"resolve":{"scale":{"x":"independent","y":"independent"},"axis":{"x":"independent","y":"independent"}}
}
